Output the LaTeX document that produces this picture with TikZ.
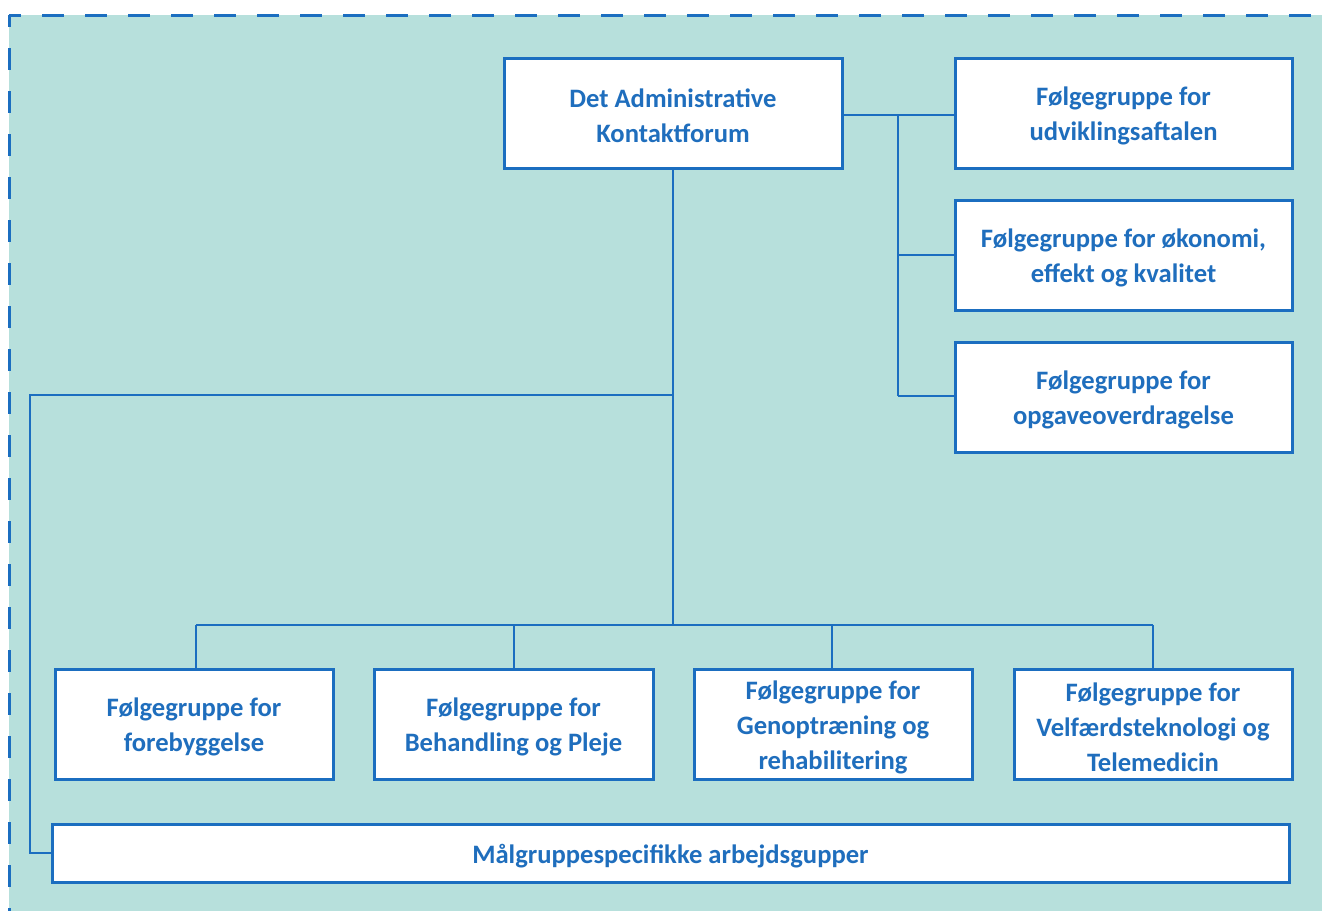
\documentclass[tikz,border=0pt]{standalone}
\usepackage{fontspec}
\setmainfont{Carlito}
\definecolor{bgteal}{HTML}{B7E0DC}
\definecolor{lineblue}{HTML}{1B6EC0}
\definecolor{txtblue}{HTML}{1F6EBD}
\begin{document}
\begin{tikzpicture}[x=1pt,y=-1pt,
  box/.style={draw=lineblue,line width=3pt,fill=white,inner sep=0pt},
  txt/.style={text=txtblue,font=\fontsize{26.6}{35}\selectfont\bfseries,align=center,inner sep=0pt},
  conn/.style={draw=lineblue,line width=2.9pt},
  border/.style={draw=lineblue,line width=3pt,dash pattern=on 22pt off 21pt,dash phase=10pt}]
\useasboundingbox (0,0) rectangle (1322,911);
\fill[bgteal] (9,15) rectangle (1322,911);
\coordinate (corner) at (9,15);
\coordinate (cbottom) at (9,911);
\coordinate (cright) at (1322,15);
\draw[border] (corner) -- (cbottom);
\draw[border] (corner) -- (cright);

% top
\node[box,minimum width=338pt,minimum height=110pt] (top) at (673,113) {};
\node[txt] (topt) at ([yshift=-2.5pt]top.center) {Det Administrative\\Kontaktforum};
\node[box,minimum width=337pt,minimum height=110pt] (r1) at (1123.5,113) {};
\node[txt] (r1t) at ([yshift=-2.5pt]r1.center) {Følgegruppe for\\udviklingsaftalen};
\node[box,minimum width=337pt,minimum height=110pt] (r2) at (1123.5,255) {};
\node[txt] (r2t) at ([yshift=-2.5pt]r2.center) {Følgegruppe for økonomi,\\effekt og kvalitet};
\node[box,minimum width=337pt,minimum height=110pt] (r3) at (1123.5,397) {};
\node[txt] (r3t) at ([yshift=-2.5pt]r3.center) {Følgegruppe for\\opgaveoverdragelse};

% bottom row
\node[box,minimum width=278pt,minimum height=110pt] (b1) at (194,724) {};
\node[txt] (b1t) at ([yshift=-3pt]b1.center) {Følgegruppe for\\forebyggelse};
\node[box,minimum width=279pt,minimum height=110pt] (b2) at (513.5,724) {};
\node[txt] (b2t) at ([yshift=-3pt]b2.center) {Følgegruppe for\\Behandling og Pleje};
\node[box,minimum width=278pt,minimum height=110pt] (b3) at (833,724) {};
\node[txt] (b3t) at ([yshift=-3.5pt]b3.center) {Følgegruppe for\\Genoptræning og\\rehabilitering};
\node[box,minimum width=278pt,minimum height=110pt] (b4) at (1153,724) {};
\node[txt] (b4t) at ([yshift=-3.5pt]b4.center) {Følgegruppe for\\Velfærdsteknologi og\\Telemedicin};

\node[box,minimum width=1237pt,minimum height=58pt] (wide) at (670.5,853) {};
\node[txt] (widet) at ([yshift=-3pt]wide.center) {Målgruppespecifikke arbejdsgupper};

% connectors right side
\coordinate (rt) at (898,115);
\coordinate (rb2) at (898,255);
\coordinate (rb3) at (898,396);
\draw[conn] (top.east |- rt) -- (r1.west |- rt);
\draw[conn] (rt) -- (rb3);
\draw[conn] (rb2) -- (r2.west |- rb2);
\draw[conn] (rb3) -- (r3.west |- rb3);

% main trunk
\coordinate (mid) at (673,395);
\coordinate (bus) at (673,625);
\draw[conn] (top.south) -- (bus);
\coordinate (lcorner) at (30,395);
\coordinate (lbottom) at (30,853);
\draw[conn] (mid) -- (lcorner) -- (lbottom) -- (wide.west);

\coordinate (bus1) at (196,625);
\coordinate (bus2) at (514,625);
\coordinate (bus3) at (832,625);
\coordinate (bus4) at (1153,625);
\draw[conn] (bus1) -- (bus4);
\draw[conn] (bus1) -- (bus1 |- b1.north);
\draw[conn] (bus2) -- (bus2 |- b2.north);
\draw[conn] (bus3) -- (bus3 |- b3.north);
\draw[conn] (bus4) -- (bus4 |- b4.north);
\end{tikzpicture}
\end{document}
